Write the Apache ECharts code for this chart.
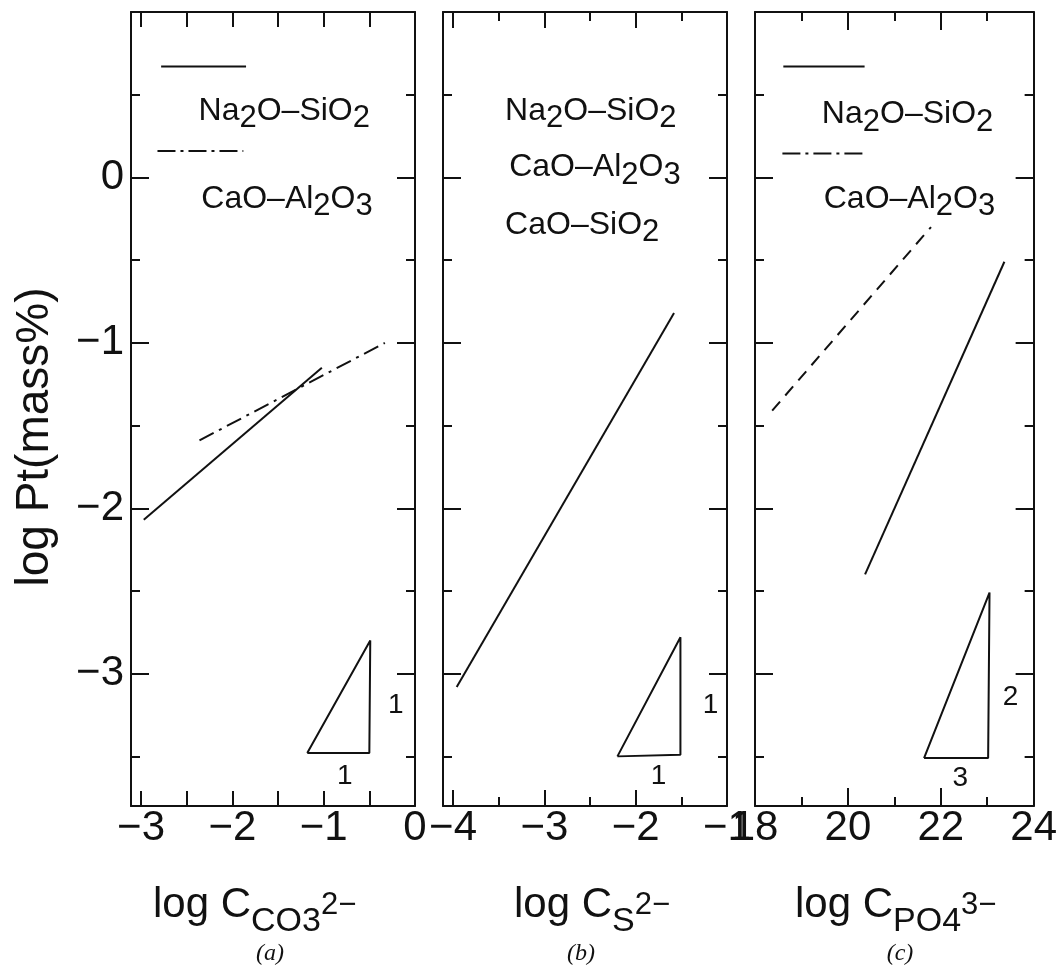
<!DOCTYPE html>
<html>
<head>
<meta charset="utf-8">
<title>log Pt vs log capacities</title>
<script src="https://cdn.jsdelivr.net/npm/echarts@6/dist/echarts.min.js"></script>
<style>
  html, body { margin: 0; padding: 0; background: #ffffff; }
  #chart { width: 1060px; height: 965px; }
</style>
</head>
<body>
<div id="chart"></div>
<script>
// ---- axis ranges ----
const yRange  = [-3.8, 1.0];
const aXRange = [-3.11, 0];
const bXRange = [-4.11, -1];
const cXRange = [18, 24];

// ---- tick positions and tick labels ----
const aXLabels = [-3, -2, -1, 0];
const aXTicks  = [-3, -2.5, -2, -1.5, -1, -0.5];
const aXMinor  = [];
const bXLabels = [-4, -3, -2, -1];
const bXTicks  = [-4, -3, -2];
const bXMinor  = [-3.5, -2.5, -1.5];
const cXLabels = [18, 20, 22, 24];
const cXTicks  = [20, 22];
const cXMinor  = [19, 21, 23];
const yLabels  = [0, -1, -2, -3];
const yTicks   = [0, -1, -2, -3];
const yMinor   = [0.5, -0.5, -1.5, -2.5, -3.5];

// ---- (a) log C_CO3 : fitted lines [x, y] ----
const aNa2OSiO2 = [[-2.97, -2.07], [-1.02, -1.15]];
const aCaOAl2O3 = [[-2.36, -1.59], [-0.33, -1.00]];
const aSlope    = [[-1.18, -3.48], [-0.50, -3.48], [-0.49, -2.80], [-1.18, -3.48]];

// ---- (b) log C_S ----
const bAllSlags = [[-3.96, -3.08], [-1.58, -0.82]];
const bSlope    = [[-2.20, -3.50], [-1.51, -3.49], [-1.51, -2.78], [-2.20, -3.50]];

// ---- (c) log C_PO4 ----
const cNa2OSiO2 = [[20.37, -2.40], [23.37, -0.51]];
const cCaOAl2O3 = [[18.37, -1.41], [21.79, -0.30]];
const cSlope    = [[21.64, -3.51], [23.02, -3.51], [23.05, -2.51], [21.64, -3.51]];

// ---- key swatches (line samples) ----
const aKeySolid = [[-2.78, 0.67], [-1.85, 0.67]];
const aKeyDash  = [[-2.82, 0.16], [-1.88, 0.16]];
const cKeySolid = [[18.61, 0.67], [20.36, 0.67]];
const cKeyDash  = [[18.59, 0.145], [20.36, 0.145]];

// ---- in-plot texts: [text, x, y] ----
const aNotes = [['Na_2O–SiO_2', -2.37, 0.40], ['CaO–Al_2O_3', -2.34, -0.13]];
const bNotes = [['Na_2O–SiO_2', -3.43, 0.40], ['CaO–Al_2O_3', -3.385, 0.06], ['CaO–SiO_2', -3.43, -0.29]];
const cNotes = [['Na_2O–SiO_2', 19.44, 0.38], ['CaO–Al_2O_3', 19.48, -0.13]];
const aSlopeText = [['1', -0.21, -3.19], ['1', -0.77, -3.62]];
const bSlopeText = [['1', -1.18, -3.19], ['1', -1.75, -3.62]];
const cSlopeText = [['2', 23.50, -3.14], ['3', 22.42, -3.63]];

const INK = '#111111';
const SANS = "'Liberation Sans', Arial, Helvetica, sans-serif";
const SERIF = "'Liberation Serif', 'Times New Roman', serif";

const GRID_LEFT = [131, 443, 755];
const GRID_TOP = 12, GRID_W = 284, GRID_H = 794;

function minusFmt(v) {
  return v < 0 ? '−' + Math.abs(v) : String(v);
}

// chemical formula "Na_2O" -> rich text with lowered digits
function formula(text) {
  const parts = text.split(/_(\d)/);
  let out = '';
  parts.forEach((p, i) => {
    if (!p) return;
    out += (i % 2 ? '{d|' : '{t|') + p + '}';
  });
  return out;
}

const noteRich = {
  t: { fontFamily: SANS, fontSize: 32, lineHeight: 32, color: INK },
  d: { fontFamily: SANS, fontSize: 31, lineHeight: 31, color: INK, padding: [15, 0, 0, 0] }
};

function axis(gridIndex, pos, range, ticks, tickLen, labels, showLine) {
  return {
    type: 'value', gridIndex: gridIndex, position: pos,
    min: range[0], max: range[1],
    axisLine: { show: showLine, onZero: false, lineStyle: { color: INK, width: 2 } },
    axisTick: {
      show: ticks.length > 0, inside: true, length: tickLen,
      customValues: ticks, lineStyle: { color: INK, width: 2 }
    },
    axisLabel: labels ? {
      show: true, customValues: labels, formatter: minusFmt,
      fontFamily: SANS, fontSize: 42, color: INK,
      margin: (pos === 'bottom' ? 1 : 7),
      showMinLabel: true, showMaxLabel: true
    } : { show: false },
    splitLine: { show: false },
    minorTick: { show: false },
    minorSplitLine: { show: false }
  };
}

const panels = [
  { xr: aXRange, xl: aXLabels, xt: aXTicks, xm: aXMinor, majorLen: 15, yLab: true },
  { xr: bXRange, xl: bXLabels, xt: bXTicks, xm: bXMinor, majorLen: 16, yLab: false },
  { xr: cXRange, xl: cXLabels, xt: cXTicks, xm: cXMinor, majorLen: 18, yLab: false }
];

const grids = [], xAxes = [], yAxes = [];
panels.forEach((p, i) => {
  grids.push({ left: GRID_LEFT[i], top: GRID_TOP, width: GRID_W, height: GRID_H, containLabel: false });
  xAxes.push(axis(i, 'bottom', p.xr, p.xt, p.majorLen, p.xl, true));
  xAxes.push(axis(i, 'bottom', p.xr, p.xm, 9, null, false));
  xAxes.push(axis(i, 'top', p.xr, p.xt, p.majorLen, null, true));
  xAxes.push(axis(i, 'top', p.xr, p.xm, 9, null, false));
  yAxes.push(axis(i, 'left', yRange, yTicks, 18, p.yLab ? yLabels : null, true));
  yAxes.push(axis(i, 'left', yRange, yMinor, 9, null, false));
  yAxes.push(axis(i, 'right', yRange, yTicks, 18, null, true));
  yAxes.push(axis(i, 'right', yRange, yMinor, 9, null, false));
});

function line(panel, data, dash) {
  return {
    type: 'line', xAxisIndex: panel * 4, yAxisIndex: panel * 4,
    data: data, symbol: 'none', silent: true, z: 3,
    lineStyle: { color: INK, width: 2, type: dash || 'solid', cap: 'butt' }
  };
}

function notes(panel, list, rich) {
  return {
    type: 'scatter', xAxisIndex: panel * 4, yAxisIndex: panel * 4,
    symbolSize: 0, silent: true, z: 4,
    itemStyle: { opacity: 1, color: INK },
    data: list.map(n => ({ value: [n[1], n[2]], label: { formatter: rich ? formula(n[0]) : n[0] } })),
    label: rich
      ? { show: true, position: 'right', distance: 0, color: INK, opacity: 1, rich: noteRich }
      : { show: true, position: 'inside', fontFamily: SANS, fontSize: 28, color: INK, opacity: 1 }
  };
}

const DASH_DOT = [16, 6, 3, 6];
const KEY_DASH_DOT = [18, 5, 3, 5];
const DASH = [12, 8];

const series = [
  line(0, aNa2OSiO2), line(0, aCaOAl2O3, DASH_DOT), line(0, aSlope),
  line(0, aKeySolid), line(0, aKeyDash, KEY_DASH_DOT),
  line(1, bAllSlags), line(1, bSlope),
  line(2, cNa2OSiO2), line(2, cCaOAl2O3, DASH), line(2, cSlope),
  line(2, cKeySolid), line(2, cKeyDash, KEY_DASH_DOT),
  notes(0, aNotes, true), notes(1, bNotes, true), notes(2, cNotes, true),
  notes(0, aSlopeText, false), notes(1, bSlopeText, false), notes(2, cSlopeText, false)
];

const titleRich = {
  m: { fontFamily: SANS, fontSize: 42, lineHeight: 42, color: INK },
  s: { fontFamily: SANS, fontSize: 34, lineHeight: 34, color: INK, padding: [34, 0, 0, 0] },
  p: { fontFamily: SANS, fontSize: 31, lineHeight: 31, color: INK }
};

function xTitle(left, sub, sup) {
  return {
    type: 'text', x: left, y: 905, silent: true,
    style: {
      text: '{m|log C}{s|' + sub + '}{p|' + sup + '}',
      rich: titleRich, fill: INK,
      align: 'left', verticalAlign: 'middle',
      textAlign: 'left', textVerticalAlign: 'middle'
    }
  };
}

function panelTag(cx, tag) {
  return {
    type: 'text', x: cx, y: 954, silent: true,
    style: {
      text: tag, fill: INK,
      font: 'italic 24px ' + SERIF,
      align: 'center', verticalAlign: 'middle',
      textAlign: 'center', textVerticalAlign: 'middle'
    }
  };
}

const graphics = [
  {
    type: 'text', x: 35, y: 437, rotation: Math.PI / 2, silent: true,
    style: {
      text: 'log Pt(mass%)', fill: INK,
      font: '46px ' + SANS,
      align: 'center', verticalAlign: 'middle',
      textAlign: 'center', textVerticalAlign: 'middle'
    }
  },
  xTitle(153, 'CO3', '2−'),
  xTitle(514, 'S', '2−'),
  xTitle(795, 'PO4', '3−'),
  panelTag(270, '(a)'),
  panelTag(581, '(b)'),
  panelTag(900, '(c)')
];

const chart = echarts.init(document.getElementById('chart'), null, { renderer: 'canvas' });
chart.setOption({
  backgroundColor: '#ffffff',
  animation: false,
  grid: grids,
  xAxis: xAxes,
  yAxis: yAxes,
  series: series,
  graphic: graphics
});
</script>
</body>
</html>
